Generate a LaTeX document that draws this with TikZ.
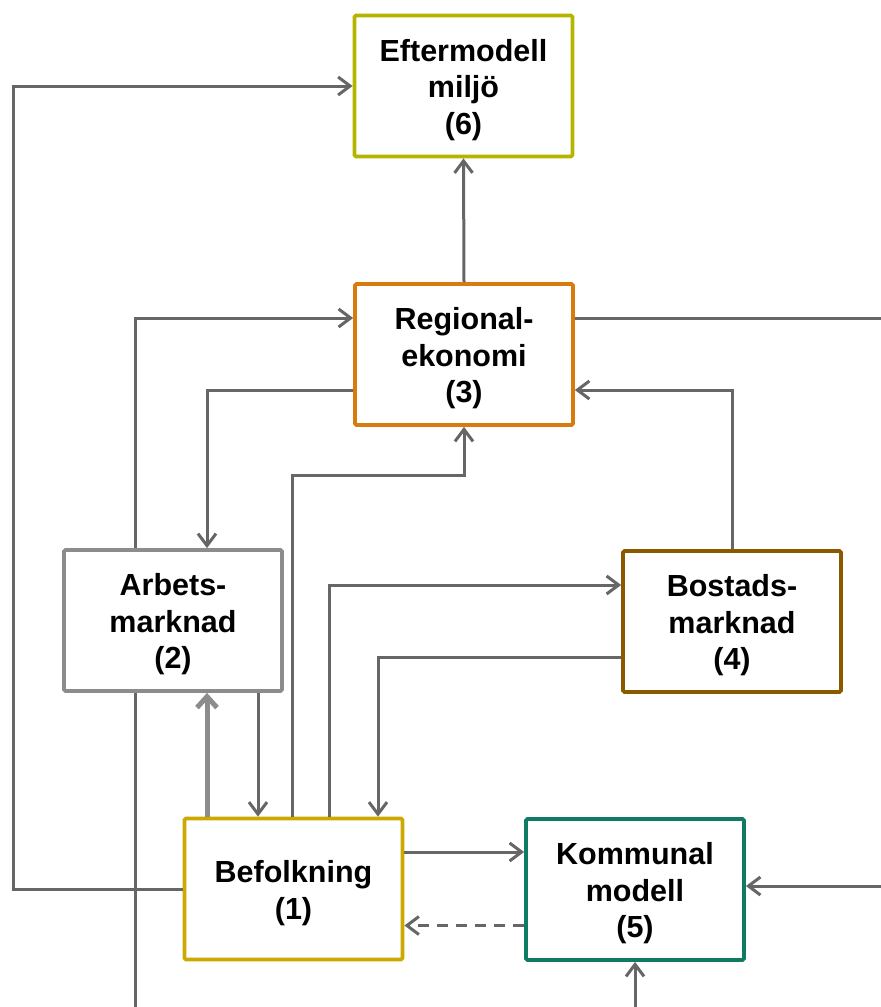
\documentclass[tikz,border=0pt]{standalone}
\usepackage{fontspec}
\setmainfont{Liberation Sans}
\usetikzlibrary{arrows.meta,calc}
\definecolor{conn}{HTML}{666666}
\definecolor{thickc}{HTML}{8C8C8C}
\definecolor{cEft}{HTML}{B5B500}
\definecolor{cReg}{HTML}{D97A0E}
\definecolor{cArb}{HTML}{8C8C8C}
\definecolor{cBos}{HTML}{8B5A00}
\definecolor{cBef}{HTML}{CCA800}
\definecolor{cKom}{HTML}{0F7B62}
\newcommand{\tpstrut}{\rule{0pt}{30pt}}
\tikzset{
  box/.style={draw, line width=3.8pt, fill=white, rounded corners=1.5pt,
    minimum width=218pt, minimum height=141pt, inner sep=0pt, align=center,
    font=\fontsize{30.5}{36.5}\selectfont\bfseries},
  arr/.style={draw=conn, line width=3pt, -{Straight Barb[length=12pt,width=18pt]}},
  plain/.style={draw=conn, line width=3pt},
  thickarr/.style={draw=thickc, line width=5pt, -{Straight Barb[length=11pt,width=20pt]}},
  dasharr/.style={arr, dash pattern=on 11pt off 8pt}
}
\begin{document}
\begin{tikzpicture}[x=1pt,y=-1pt]
\useasboundingbox (0,0) rectangle (881,1007);
\node[box, draw=cEft] (eft) at (463.5,86) {\tpstrut Eftermodell\\miljö\\(6)};
\node[box, draw=cReg] (reg) at (464,354.5) {\tpstrut Regional-\\ekonomi\\(3)};
\node[box, draw=cArb] (arb) at (173,620.5) {\tpstrut Arbets-\\marknad\\(2)};
\node[box, draw=cBos] (bos) at (732,621.5) {\tpstrut Bostads-\\marknad\\(4)};
\node[box, draw=cBef] (bef) at (293.5,889) {\tpstrut Befolkning\\(1)};
\node[box, draw=cKom] (kom) at (635,889.5) {\tpstrut Kommunal\\modell\\(5)};
% helper coordinates
\coordinate (tl) at (13,86);
\coordinate (rr) at (881,318);
\coordinate (c475) at (464,475);
\coordinate (bl) at (135,1007);
\coordinate (rb) at (881,886);
\coordinate (kb) at (635,1007);
\coordinate (a258) at ([xshift=85pt]arb.south);
\coordinate (b207) at ([xshift=-86.5pt]bef.north);
% connectors
\draw[arr] (bef.west) -| (tl) -- (eft.west);
\draw[arr] (reg.north) -- (eft.south);
\draw[arr] ([xshift=-38pt]arb.north) |- ([yshift=36.5pt]reg.west);
\draw[arr] ([yshift=-35.5pt]reg.west) -| ([xshift=34pt]arb.north);
\draw[plain] ([yshift=36.5pt]reg.east) -- (rr);
\draw[arr] (bos.north) |- ([yshift=-35.5pt]reg.east);
\draw[arr] ([xshift=-1.5pt]bef.north) |- (c475) -- (reg.south);
\draw[arr] ([xshift=35.5pt]bef.north) |- ([yshift=36.5pt]bos.west);
\draw[arr] ([yshift=-35.5pt]bos.west) -| ([xshift=84.5pt]bef.north);
\draw[arr] (a258) -- (a258 |- bef.north);
\draw[thickarr] (b207) -- (b207 |- arb.south);
\draw[plain] ([xshift=-38pt]arb.south) -- (bl);
\draw[arr] ([yshift=37pt]bef.east) -- ([yshift=37pt]bef.east -| kom.west);
\draw[dasharr] ([yshift=-36pt]kom.west) -- ([yshift=-36pt]kom.west -| bef.east);
\draw[arr] (rb) -- (rb -| kom.east);
\draw[arr] (kb) -- (kom.south);
\end{tikzpicture}
\end{document}
